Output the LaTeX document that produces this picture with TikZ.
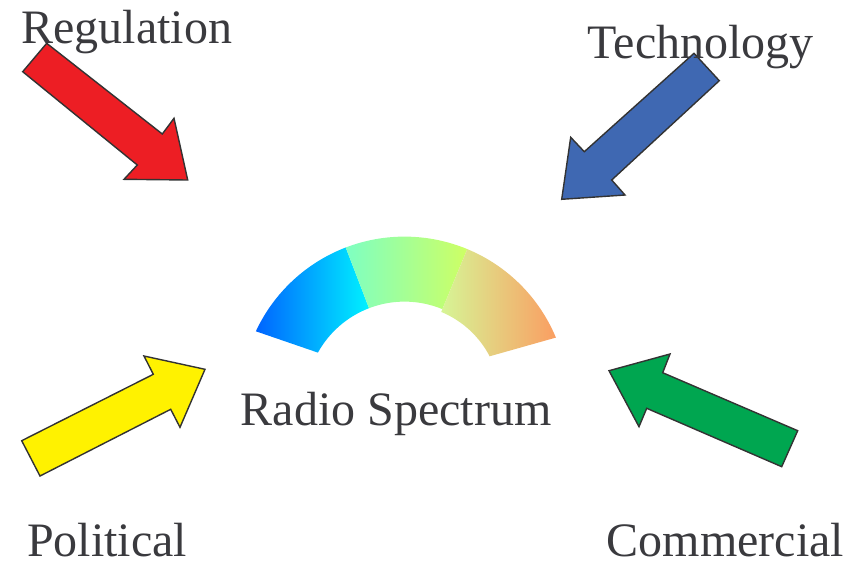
\documentclass[tikz,border=0pt]{standalone}
\usepackage{fontspec}
\setmainfont{Liberation Serif}

\begin{document}
\begin{tikzpicture}[
  x=1pt, y=-1pt,
  force/.style={draw=black!80, line width=1.4pt, line join=miter},
  lbl/.style={inner sep=0pt, anchor=base west, text=labelgray, text depth=0pt,
    font=\fontsize{48}{56}\selectfont},
]
\definecolor{labelgray}{RGB}{58,58,62}
\definecolor{regred}{RGB}{237,30,36}
\definecolor{techblue}{RGB}{63,104,178}
\definecolor{polyellow}{RGB}{255,242,0}
\definecolor{comgreen}{RGB}{0,166,80}

\useasboundingbox (0,0) rectangle (868,563);

% the four influences
\draw [force, fill=regred] (46.7,43.3) -- (22.7,71.7) -- (137.3,165) -- (124,179.3)
  -- (187.7,180) -- (174,118.3) -- (162.3,134) -- cycle;
\draw [force, fill=techblue] (694,53.3) -- (719.3,80.7) -- (611.7,180) -- (625,195)
  -- (561.7,199.3) -- (570.7,137.3) -- (584.3,151.7) -- cycle;
\draw [force, fill=polyellow] (21.7,440.7) -- (40,476) -- (170.7,409.3) -- (180,427.3)
  -- (205,369.3) -- (144,356) -- (153.3,374.3) -- cycle;
\draw [force, fill=comgreen] (797.7,430.7) -- (781.7,466.7) -- (646.7,408.3) -- (639,426.7)
  -- (609,370.7) -- (670,354) -- (662.7,372.7) -- cycle;

% spectrum band
\begin{scope}[shift={(404.5,400.6)}, yscale=-1]
\shade [left color={rgb,255:red,0;green,100;blue,255}, right color={rgb,255:red,0;green,242;blue,255}]
  (155:164) arc [start angle=155, end angle=111, radius=164]
  -- (111:99) arc [start angle=111, end angle=151, radius=99] -- cycle;
\shade [left color={rgb,255:red,126;green,255;blue,194}, right color={rgb,255:red,206;green,255;blue,100}]
  (111:164) arc [start angle=111, end angle=67.5, radius=164]
  -- (67.5:99) arc [start angle=67.5, end angle=111, radius=99] -- cycle;
\shade [left color={rgb,255:red,214;green,245;blue,150}, right color={rgb,255:red,250;green,158;blue,98}]
  (67.5:164) arc [start angle=67.5, end angle=22.6, radius=164]
  -- (27.5:96) arc [start angle=27.5, end angle=67.5, radius=96] -- cycle;
\end{scope}

\node [lbl] (regulation) at (21.2,43.3) {Regulation};
\node [lbl] (technology) at (587.5,58.3) {Technology};
\node [lbl] (spectrum) at (240.5,425) {Radio Spectrum};
\node [lbl] (political) at (27,556.7) {Political};
\node [lbl] (commercial) at (606.5,556.7) {Commercial};

\end{tikzpicture}
\end{document}
